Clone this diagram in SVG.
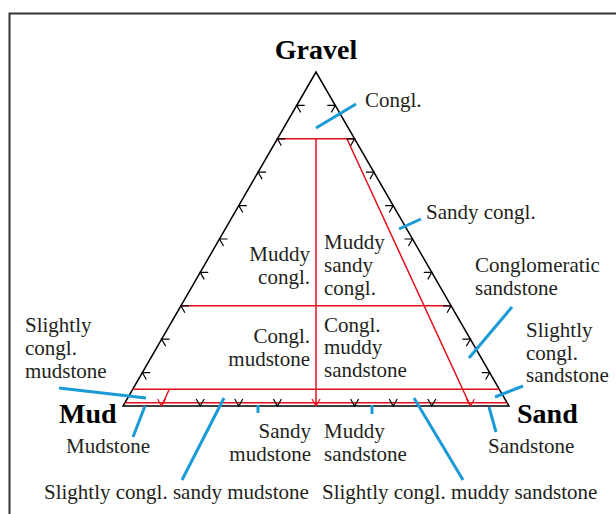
<svg xmlns="http://www.w3.org/2000/svg" xmlns:xlink="http://www.w3.org/1999/xlink" width="616" height="514" viewBox="0 0 616 514">
<style>
.t{font-family:"Liberation Serif","Times New Roman",serif;font-size:21px;fill:#231f20}
.b{font-family:"Liberation Serif","Times New Roman",serif;font-size:28px;font-weight:bold;fill:#000}
.r{text-anchor:end}
.m{text-anchor:middle}
.edge{fill:none;stroke:#000;stroke-width:1.5;stroke-linejoin:miter}
.red{fill:none;stroke:#e3101c;stroke-width:1.5}
.tk{fill:none;stroke:#000;stroke-width:1.2}
.tkr{fill:none;stroke:#e3101c;stroke-width:1.2}
.ld{stroke:#1a9ad6;stroke-width:3;fill:none}
</style>
<defs>
<path id="tl" d="M8,0H0L4,6.93"/>
<path id="tr" d="M-8,0H0L-4,6.93"/>
<path id="tb" d="M-4,-6.93L0,0L4,-6.93"/>
</defs>
<rect x="9.5" y="13.5" width="700" height="600" fill="#fff" stroke="#333" stroke-width="2"/>
<g id="triangle">
<path class="edge" d="M316,72L123,406H509Z"/>
</g>
<g id="fields">
<path class="red" d="M277.4,138.8H354.6M180.9,305.8H451.1M132.65,389.3H499.35M124.9,402.7H507.1M316,138.8V406M346.9,138.8L470.4,406M169.3,389.3L161.6,406"/>
</g>
<g id="ticks">
<g class="tk">
<use xlink:href="#tl" x="142.3" y="372.6"/><use xlink:href="#tl" x="161.6" y="339.2"/><use xlink:href="#tl" x="180.9" y="305.8"/><use xlink:href="#tl" x="200.2" y="272.4"/><use xlink:href="#tl" x="219.5" y="239"/><use xlink:href="#tl" x="238.8" y="205.6"/><use xlink:href="#tl" x="258.1" y="172.2"/><use xlink:href="#tl" x="277.4" y="138.8"/><use xlink:href="#tl" x="296.7" y="105.4"/>
<use xlink:href="#tr" x="489.7" y="372.6"/><use xlink:href="#tr" x="470.4" y="339.2"/><use xlink:href="#tr" x="451.1" y="305.8"/><use xlink:href="#tr" x="431.8" y="272.4"/><use xlink:href="#tr" x="412.5" y="239"/><use xlink:href="#tr" x="393.2" y="205.6"/><use xlink:href="#tr" x="373.9" y="172.2"/><use xlink:href="#tr" x="354.6" y="138.8"/><use xlink:href="#tr" x="335.3" y="105.4"/>
<use xlink:href="#tb" x="200.2" y="406"/><use xlink:href="#tb" x="238.8" y="406"/><use xlink:href="#tb" x="277.4" y="406"/><use xlink:href="#tb" x="354.6" y="406"/><use xlink:href="#tb" x="393.2" y="406"/><use xlink:href="#tb" x="431.8" y="406"/>
</g>
<g class="tkr">
<use xlink:href="#tb" x="161.6" y="406"/><use xlink:href="#tb" x="316" y="406"/><use xlink:href="#tb" x="470.4" y="406"/>
</g>
</g>
<g id="connectors">
<path class="ld" d="M316,128L356,104"/>
<path class="ld" d="M399,229L421,219"/>
<path class="ld" d="M469,358L512,307"/>
<path class="ld" d="M495,397L523,386"/>
<path class="ld" d="M489,407L496,432"/>
<path class="ld" d="M59,388L146,398"/>
<path class="ld" d="M145,406L133,437"/>
<path class="ld" d="M224,398L182,480"/>
<path class="ld" d="M258,405V413"/>
<path class="ld" d="M372,405V414"/>
<path class="ld" d="M414,398L463,480"/>
</g>
<g id="n-gravel"><text class="b m" x="316" y="59">Gravel</text></g>
<g id="n-mud"><text class="b" x="59" y="423">Mud</text></g>
<g id="n-sand"><text class="b" x="517" y="423">Sand</text></g>
<g id="n-congl"><text class="t" x="365" y="107">Congl.</text></g>
<g id="n-sandy-congl"><text class="t" x="426" y="219">Sandy congl.</text></g>
<g id="n-muddy-congl"><text class="t r" x="310" y="261">Muddy</text><text class="t r" x="310" y="284">congl.</text></g>
<g id="n-muddy-sandy-congl"><text class="t" x="324" y="249">Muddy</text><text class="t" x="324" y="272">sandy</text><text class="t" x="324" y="295">congl.</text></g>
<g id="n-congl-mudstone"><text class="t r" x="310" y="343">Congl.</text><text class="t r" x="310" y="366">mudstone</text></g>
<g id="n-congl-muddy-sandstone"><text class="t" x="324" y="332">Congl.</text><text class="t" x="324" y="354">muddy</text><text class="t" x="324" y="377">sandstone</text></g>
<g id="n-congl-sandstone"><text class="t" x="475" y="272">Conglomeratic</text><text class="t" x="475" y="295">sandstone</text></g>
<g id="n-sl-congl-sandstone"><text class="t" x="526" y="337">Slightly</text><text class="t" x="526" y="360">congl.</text><text class="t" x="526" y="382">sandstone</text></g>
<g id="n-sl-congl-mudstone"><text class="t" x="25" y="332">Slightly</text><text class="t" x="25" y="355">congl.</text><text class="t" x="25" y="378">mudstone</text></g>
<g id="n-mudstone"><text class="t" x="66" y="453">Mudstone</text></g>
<g id="n-sandstone"><text class="t" x="488" y="453">Sandstone</text></g>
<g id="n-sandy-mudstone"><text class="t r" x="311" y="438">Sandy</text><text class="t r" x="311" y="461">mudstone</text></g>
<g id="n-muddy-sandstone"><text class="t" x="324" y="438">Muddy</text><text class="t" x="324" y="461">sandstone</text></g>
<g id="n-sl-congl-sandy-mudstone"><text class="t" x="44" y="499">Slightly congl. sandy mudstone</text></g>
<g id="n-sl-congl-muddy-sandstone"><text class="t" x="322" y="499">Slightly congl. muddy sandstone</text></g>
</svg>
